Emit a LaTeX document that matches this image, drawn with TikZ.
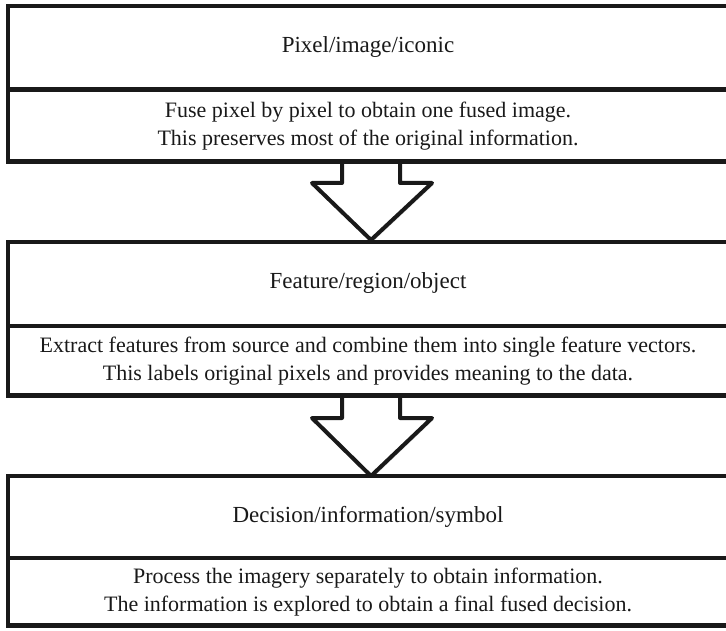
\documentclass[tikz,border=0pt]{standalone}
\usepackage{fontspec}
\setmainfont{Liberation Serif}
\usetikzlibrary{calc,shadows}
\begin{document}
\begin{tikzpicture}[x=1bp,y=-1bp,
  section/.style={draw=black!90, line width=3bp, fill=white, outer sep=0pt,
    minimum width=720bp, align=center, inner sep=0pt,
    font=\fontsize{22bp}{27.5bp}\selectfont, text=black!90},
  heading/.style={section, font=\fontsize{23bp}{28bp}\selectfont},
  outerframe/.style={draw=black!90, line width=4.5bp,
    drop shadow={opacity=0.25, shadow xshift=1.5bp, shadow yshift=-2bp}},
  flowarrow/.style={draw=black!90, line width=4bp, fill=white, line join=round,
    drop shadow={opacity=0.25, shadow xshift=1.5bp, shadow yshift=-2bp}}]
\useasboundingbox (0,0) rectangle (726,631);
\clip (0,0) rectangle (726,631);

% downward block arrows between the stages (drawn first, boxes sit on top)
\coordinate (a1top) at (371,160);
\coordinate (a1tip) at (371,240);
\coordinate (a2top) at (371,394);
\coordinate (a2tip) at (371,476);
\path[flowarrow] ($(a1top)+(-29,0)$) -- ++(0,23) -- ++(-30,0) -- (a1tip)
  -- ($(a1top)+(61,23)$) -- ++(-32,0) -- ++(0,-23);
\path[flowarrow] ($(a2top)+(-29,0)$) -- ++(0,24) -- ++(-30,0) -- (a2tip)
  -- ($(a2top)+(61,24)$) -- ++(-32,0) -- ++(0,-24);

% stage 1
\draw[outerframe, fill=white] (8,6) rectangle (728,160);
\node[heading, minimum height=83bp] (t1) at (368,47.5) {Pixel/image/iconic};
\node[section, minimum height=71bp] (d1) at (368,126)
  {Fuse pixel by pixel to obtain one fused image.\\
   This preserves most of the original information.};
\draw[draw=black!90, line width=4.5bp] (t1.north west) rectangle (d1.south east);

% stage 2
\draw[outerframe, fill=white] (8,242) rectangle (728,394);
\node[heading, minimum height=83bp] (t2) at (368,283.5) {Feature/region/object};
\node[section, minimum height=69bp] (d2) at (368,361)
  {Extract features from source and combine them into single feature vectors.\\
   This labels original pixels and provides meaning to the data.};
\draw[draw=black!90, line width=4.5bp] (t2.north west) rectangle (d2.south east);

% stage 3
\draw[outerframe, fill=white] (8,476) rectangle (728,624);
\node[heading, minimum height=81bp] (t3) at (368,516.5) {Decision/information/symbol};
\node[section, minimum height=67bp] (d3) at (368,592)
  {Process the imagery separately to obtain information.\\
   The information is explored to obtain a final fused decision.};
\draw[draw=black!90, line width=4.5bp] (t3.north west) rectangle (d3.south east);
\end{tikzpicture}
\end{document}
